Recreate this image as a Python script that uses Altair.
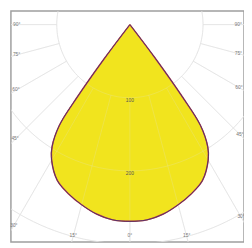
import math
import altair as alt
import pandas as pd

# ---- data (half curve, symmetric) ----
angles_deg = [0, 5, 10, 15, 20, 25, 30, 32.5, 35, 36, 37, 38]
intensity_cd = [269, 268, 263, 255, 246, 235, 214, 198, 168, 122, 58, 0]
ring_values = [100, 200, 300]
ring_labels = ["100", "200"]
spoke_angles = [-90, -75, -60, -45, -30, -15, 0, 15, 30, 45, 60, 75, 90]

# ---- layout ----
W, H = 239, 237
CX, CY = 122, 14          # centre of the polar grid inside the view (px)
PX = 0.75                 # px per cd

xdom = [-CX / PX, (W - CX) / PX]
ydom = [-(H - CY) / PX, CY / PX]
xs = alt.Scale(domain=xdom, nice=False, zero=False)
ys = alt.Scale(domain=ydom, nice=False, zero=False)
noax = None

def rad(d):
    return math.radians(d)

# outline (closed)
full_a = [-a for a in angles_deg[::-1]] + angles_deg[1:]
full_i = intensity_cd[::-1] + intensity_cd[1:]
out_df = pd.DataFrame({
    "x": [i * math.sin(rad(a)) for a, i in zip(full_a, full_i)],
    "y": [-i * math.cos(rad(a)) for a, i in zip(full_a, full_i)],
    "idx": range(len(full_a)),
})

# rings
ring_rows = []
for r in ring_values:
    for k in range(0, 361, 2):
        ring_rows.append({"ring": r, "k": k,
                          "x": r * math.sin(rad(k)), "y": -r * math.cos(rad(k))})
ring_df = pd.DataFrame(ring_rows)

# spokes
spoke_df = pd.DataFrame({
    "x": [100 * math.sin(rad(a)) for a in spoke_angles],
    "y": [-100 * math.cos(rad(a)) for a in spoke_angles],
    "x2": [600 * math.sin(rad(a)) for a in spoke_angles],
    "y2": [-600 * math.cos(rad(a)) for a in spoke_angles],
})

# spoke labels near the box edge
lab_rows = []
for a in spoke_angles:
    s, c = math.sin(rad(a)), math.cos(rad(a))
    ts = []
    if s > 1e-9:
        ts.append((W - CX) / s)
    if s < -1e-9:
        ts.append(CX / -s)
    if c > 1e-9:
        ts.append((H - CY) / c)
    t = min(ts) - 6
    lab_rows.append({"x": t * s / PX, "y": -t * c / PX, "t": f"{abs(a)}°"})
lab_df = pd.DataFrame(lab_rows)

ringlab_df = pd.DataFrame({"x": [0, 0], "y": [-v for v in ring_values[:2]],
                           "t": ring_labels})

X = lambda f="x": alt.X(f"{f}:Q", scale=xs, axis=noax)
Y = lambda f="y": alt.Y(f"{f}:Q", scale=ys, axis=noax)

fill = alt.Chart(out_df).mark_line(fill="#F1E41E", stroke="#F1E41E", strokeWidth=0.5,
                                   interpolate="catmull-rom", clip=True).encode(
    x=X(), y=Y(), order="idx:Q")

grid_col = "#E2E2E2"

def grid(op):
    rings = alt.Chart(ring_df).mark_line(stroke=grid_col, strokeWidth=1, opacity=op, clip=True).encode(
        x=X(), y=Y(), detail="ring:N", order="k:Q")
    spokes = alt.Chart(spoke_df).mark_rule(stroke=grid_col, strokeWidth=1, opacity=op, clip=True).encode(
        x=X(), y=Y(), x2="x2:Q", y2="y2:Q")
    return rings, spokes

r1, s1 = grid(0.85)
r2, s2 = grid(0.22)

out_red = alt.Chart(out_df).mark_line(stroke="#C04050", strokeWidth=1.5,
                                      interpolate="catmull-rom", clip=True).encode(
    x=X(), y=Y(), order="idx:Q")
out_blue = alt.Chart(out_df).mark_line(stroke="#3A2F6E", strokeWidth=0.8,
                                       interpolate="catmull-rom", clip=True).encode(
    x=X(), y=Y(), order="idx:Q")

labels = alt.Chart(lab_df).mark_text(fontSize=5, color="#777", font="Liberation Sans",
                                     baseline="middle", align="center", dy=-1).encode(
    x=X(), y=Y(), text="t:N")
rlabels = alt.Chart(ringlab_df).mark_text(fontSize=5, color="#555", font="Liberation Sans",
                                          baseline="middle", align="center", dy=2).encode(
    x=X(), y=Y(), text="t:N")

chart = alt.layer(r1, s1, fill, r2, s2, out_red, out_blue, labels, rlabels).properties(
    width=W, height=H,
    autosize=alt.AutoSizeParams(type="none"),
    padding={"left": 3, "top": 0, "right": 0, "bottom": 0},
    background="white",
).configure_view(stroke="#9E9E9E", strokeWidth=1.5)

chart.save("out.html", embed_options={"renderer": "svg", "actions": False})
